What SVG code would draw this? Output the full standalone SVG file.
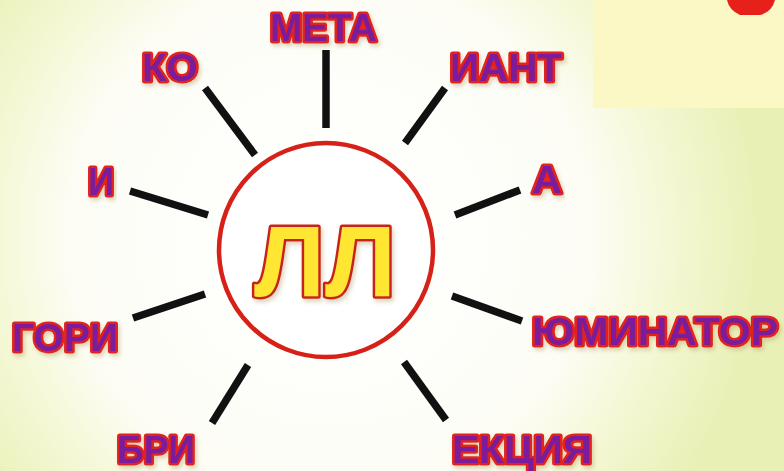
<svg xmlns="http://www.w3.org/2000/svg" width="784" height="471" viewBox="0 0 784 471">
<defs>
<radialGradient id="glow" cx="330" cy="235" r="430" gradientUnits="userSpaceOnUse">
<stop offset="0" stop-color="#ffffff"/>
<stop offset="0.6" stop-color="#fdfdf6"/>
<stop offset="0.78" stop-color="#f5f8d6"/>
<stop offset="1" stop-color="#e9f0b6"/>
</radialGradient>
<filter id="shadow" x="-10%" y="-10%" width="120%" height="130%">
<feDropShadow dx="2" dy="3" stdDeviation="2" flood-color="#b8a070" flood-opacity="0.45"/>
</filter>
<style>
.lbl{font-family:"Liberation Sans","DejaVu Sans",Arial,sans-serif;font-weight:bold;font-size:38px;fill:#7a1e9c;stroke:#e2231d;stroke-width:5;paint-order:stroke;stroke-linejoin:round;filter:url(#shadow)}
.ray{stroke:#111;stroke-width:7.5;stroke-linecap:butt}
</style>
</defs>
<rect width="784" height="471" fill="url(#glow)"/>
<rect x="593" y="0" width="191" height="108" fill="#fbf8c6"/>
<path d="M727,0 L775,0 Q772,12 760,15 L740,15 Q729,10 727,0 Z" fill="#e8201c"/>
<g id="connectors">
<line class="ray" x1="326" y1="50" x2="326" y2="128"/>
<line class="ray" x1="205" y1="88" x2="255" y2="155"/>
<line class="ray" x1="445" y1="88" x2="405" y2="143"/>
<line class="ray" x1="130" y1="191" x2="208" y2="215"/>
<line class="ray" x1="455" y1="215" x2="520" y2="190"/>
<line class="ray" x1="133" y1="318" x2="205" y2="294"/>
<line class="ray" x1="452" y1="296" x2="522" y2="321"/>
<line class="ray" x1="248" y1="365" x2="212" y2="423"/>
<line class="ray" x1="404" y1="362" x2="446" y2="420"/>
</g>
<g id="center">
<circle cx="326" cy="250" r="107" fill="#ffffff" stroke="#d62119" stroke-width="4.5"/>
<text x="325" y="296" text-anchor="middle" textLength="142" lengthAdjust="spacingAndGlyphs" style="font-family:'Liberation Sans','DejaVu Sans',sans-serif;font-weight:bold;font-size:100px;fill:#ffe633;stroke:#c8201a;stroke-width:5;paint-order:stroke;stroke-linejoin:round;filter:url(#shadow)">ЛЛ</text>
</g>
<g id="n-meta"><text class="lbl" x="270" y="41" textLength="107" lengthAdjust="spacingAndGlyphs">МЕТА</text></g>
<g id="n-ko"><text class="lbl" x="142" y="81" textLength="56" lengthAdjust="spacingAndGlyphs">КО</text></g>
<g id="n-iant"><text class="lbl" x="450" y="81" textLength="112" lengthAdjust="spacingAndGlyphs">ИАНТ</text></g>
<g id="n-i"><text class="lbl" x="88" y="195" textLength="26" lengthAdjust="spacingAndGlyphs">И</text></g>
<g id="n-a"><text class="lbl" x="532" y="193" textLength="30" lengthAdjust="spacingAndGlyphs">А</text></g>
<g id="n-gori"><text class="lbl" x="12" y="351" textLength="106" lengthAdjust="spacingAndGlyphs">ГОРИ</text></g>
<g id="n-yuminator"><text class="lbl" x="532" y="345" textLength="246" lengthAdjust="spacingAndGlyphs">ЮМИНАТОР</text></g>
<g id="n-bri"><text class="lbl" x="117" y="463" textLength="78" lengthAdjust="spacingAndGlyphs">БРИ</text></g>
<g id="n-ekciya"><text class="lbl" x="452" y="463" textLength="140" lengthAdjust="spacingAndGlyphs">ЕКЦИЯ</text></g>
</svg>
